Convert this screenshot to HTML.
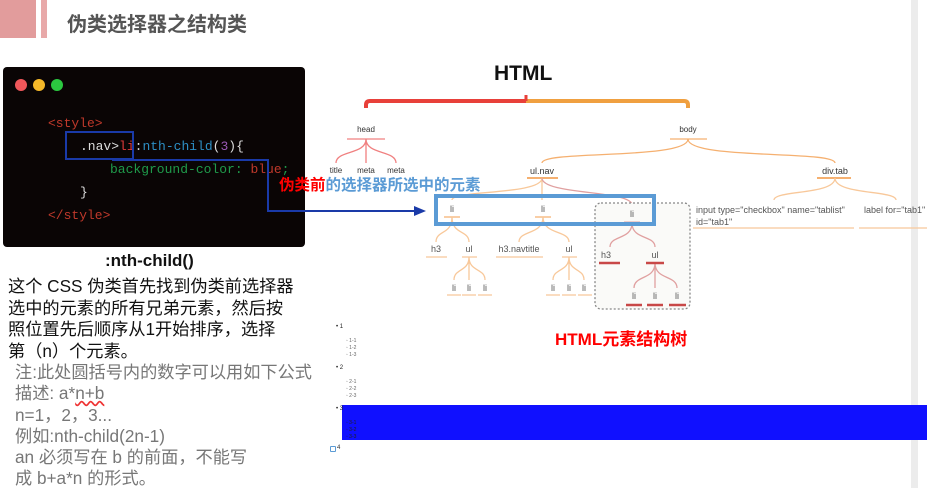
<!DOCTYPE html><html><head><meta charset="utf-8"><style>
body{margin:0;width:927px;height:488px;background:#fff;position:relative;overflow:hidden;font-family:"Liberation Sans","Noto Sans CJK SC",sans-serif}
.a{position:absolute;white-space:nowrap}
.code{font-family:"Liberation Mono","DejaVu Sans Mono",monospace;font-size:13px}
</style></head><body>
<div class="a" style="left:0;top:0;width:36px;height:38px;background:#e29c9c"></div>
<div class="a" style="left:41px;top:0;width:6px;height:38px;background:#e8a9a9"></div>
<div class="a" style="left:67px;top:8px;font-size:20px;font-weight:bold;color:#555">伪类选择器之结构类</div>
<div class="a" style="left:911px;top:0;width:7px;height:488px;background:#ececec"></div>

<div class="a" style="left:3px;top:67px;width:302px;height:180px;background:#0a0505;border-radius:4px"></div>
<div class="a" style="left:15px;top:79px;width:12px;height:12px;border-radius:6px;background:#f0575a"></div>
<div class="a" style="left:33px;top:79px;width:12px;height:12px;border-radius:6px;background:#f5b829"></div>
<div class="a" style="left:51px;top:79px;width:12px;height:12px;border-radius:6px;background:#2bc840"></div>
<div class="a code" style="left:48px;top:116px;color:#c0392b">&lt;style&gt;</div>
<div class="a code" style="left:80px;top:139px;color:#ddd">.nav&gt;<span style="color:#e03a3a">li</span>:<span style="color:#2d8fc5">nth-child</span>(<span style="color:#9b59b6">3</span>){</div>
<div class="a code" style="left:110px;top:162px;color:#1f9a4a">background-color: <span style="color:#c0392b">blue</span>;</div>
<div class="a code" style="left:80px;top:185px;color:#ddd">}</div>
<div class="a code" style="left:48px;top:208px;color:#c0392b">&lt;/style&gt;</div>

<div class="a" style="left:105px;top:251px;font-size:17px;font-weight:bold;color:#111">:nth-child()</div>
<div class="a" style="left:8px;top:276px;font-size:17.2px;line-height:21.5px;color:#111">这个 CSS 伪类首先找到伪类前选择器<br>选中的元素的所有兄弟元素，然后按<br>照位置先后顺序从1开始排序，选择<br>第（n）个元素。</div>
<div class="a" style="left:15px;top:362px;font-size:17.2px;line-height:21.3px;color:#777">注:此处圆括号内的数字可以用如下公式<br>描述: a*<span style="text-decoration:underline wavy #e33">n+b</span><br>n=1，2，3...<br>例如:nth-child(2n-1)<br>an 必须写在 b 的前面，不能写<br>成 b+a*n 的形式。</div>

<svg class="a" style="left:0;top:0" width="927" height="488">
<g fill="none" stroke-width="1.3">
<path d="M366 108 V105 Q366 101 370 101 H526" stroke="#e8403a" stroke-width="4"/>
<path d="M526 101 H684 Q688 101 688 105 V108" stroke="#f0a040" stroke-width="4"/>
<path d="M526 95 V101" stroke="#e8403a" stroke-width="3"/>
<path d="M347 139 H385" stroke="#f08080"/>
<path d="M366 139 C366 155 336 150 336 163 M366 139 V163 M366 139 C366 155 396 150 396 163" stroke="#f08080"/>
<path d="M670 139 H707" stroke="#f5b070"/>
<path d="M688 139 C688 160 542 150 542 163 M688 139 C688 160 835 150 835 163" stroke="#f5b070"/>
<path d="M527 178 H558 M817 178 H851" stroke="#f5b070" stroke-width="2"/>
<path d="M542 178 C542 195 452 190 452 200 M542 178 V200" stroke="#f8c89a"/>
<path d="M542 178 C542 195 632 190 632 205" stroke="#e0a0a0"/>
<path d="M835 178 C835 195 774 190 774 200 M835 178 C835 195 896 190 896 200" stroke="#f8c89a"/>
<path d="M693 228 H854 M859 228 H927" stroke="#f8c89a"/>
<path d="M444 217 H460 M535 217 H551" stroke="#f5b070"/>
<path d="M452 217 C452 235 436 230 436 242 M452 217 C452 235 469 230 469 242 M543 217 C543 235 519 230 519 242 M543 217 C543 235 569 230 569 242" stroke="#f8c89a"/>
<path d="M426 257 H447 M462 257 H477 M496 257 H543 M562 257 H577" stroke="#f8c89a"/>
<path d="M469 257 C469 272 454 268 454 280 M469 257 V280 M469 257 C469 272 485 268 485 280 M569 257 C569 272 553 268 553 280 M569 257 V280 M569 257 C569 272 584 268 584 280" stroke="#f8c89a"/>
<path d="M447 295 H461 M462 295 H476 M478 295 H492 M546 295 H560 M562 295 H576 M578 295 H592" stroke="#f8c89a"/>
<rect x="595" y="203" width="95" height="106" rx="6" fill="#fafaf8" stroke="#888" stroke-dasharray="2 2"/>
<path d="M632 223 C632 240 610 235 610 247 M632 223 C632 240 655 235 655 247 M655 263 C655 280 634 275 634 288 M655 263 V288 M655 263 C655 280 677 275 677 288" stroke="#e0a0a0"/>
<path d="M624 223 H640 M599 263 H620 M646 263 H664 M626 305 H642 M647 305 H663 M669 305 H686" stroke="#c84848" stroke-width="2.5"/>
<rect x="436" y="196" width="218" height="28" fill="none" stroke="#5b9bd5" stroke-width="4"/>
<rect x="66" y="132" width="67" height="27" fill="none" stroke="#1a3aa8" stroke-width="2"/>
<path d="M112 160 H268 V211 H416" stroke="#1a3aa8" stroke-width="2"/>
</g>
<path d="M426 211 L414 206 L414 216 Z" fill="#1a3aa8"/>
<g font-size="8" fill="#333" text-anchor="middle" font-family="Liberation Sans,sans-serif">
<text x="366" y="132">head</text><text x="688" y="132">body</text>
<text x="336" y="173">title</text><text x="366" y="173">meta</text><text x="396" y="173">meta</text>
<text x="542" y="174" font-size="9">ul.nav</text><text x="835" y="174" font-size="9">div.tab</text>
</g>
<g font-size="9" fill="#555" text-anchor="middle" font-family="Liberation Sans,sans-serif">
<text x="452" y="212">li</text><text x="543" y="212">li</text><text x="632" y="217">li</text>
<text x="436" y="252">h3</text><text x="469" y="252">ul</text><text x="519" y="252">h3.navtitle</text><text x="569" y="252">ul</text>
<text x="606" y="258">h3</text><text x="655" y="258">ul</text>
<text x="454" y="291">li</text><text x="469" y="291">li</text><text x="485" y="291">li</text>
<text x="553" y="291">li</text><text x="569" y="291">li</text><text x="584" y="291">li</text>
<text x="634" y="299">li</text><text x="655" y="299">li</text><text x="677" y="299">li</text>
<text x="696" y="213" text-anchor="start">input  type="checkbox" name="tablist"</text>
<text x="696" y="225" text-anchor="start">id="tab1"</text>
<text x="864" y="213" text-anchor="start">label  for="tab1"</text>
</g>
</svg>
<div class="a" style="left:494px;top:62px;font-size:21px;font-weight:bold;color:#111">HTML</div>
<div class="a" style="left:279px;top:173px;font-size:15.5px;font-weight:bold;color:#5b9bd5"><span style="color:#f00">伪类前</span>的选择器所选中的元素</div>
<div class="a" style="left:555px;top:325px;font-size:17px;font-weight:bold;color:#f00">HTML元素结构树</div>

<div class="a" style="left:342px;top:405px;width:585px;height:35px;background:#1010ff"></div>
<div class="a" style="font-size:6px;color:#222;left:336px;top:324px;line-height:7px">• 1</div>
<div class="a" style="font-size:5px;color:#666;left:346px;top:338px;line-height:7px">◦ 1-1<br>◦ 1-2<br>◦ 1-3</div>
<div class="a" style="font-size:6px;color:#222;left:336px;top:365px;line-height:7px">• 2</div>
<div class="a" style="font-size:5px;color:#666;left:346px;top:379px;line-height:7px">◦ 2-1<br>◦ 2-2<br>◦ 2-3</div>
<div class="a" style="font-size:6px;color:#222;left:336px;top:406px;line-height:7px">• 3</div>
<div class="a" style="font-size:5px;color:#222;left:346px;top:420px;line-height:7px">◦ 3-1<br>◦ 3-2<br>◦ 3-3</div>
<div class="a" style="left:330px;top:446px;width:4px;height:4px;border:1px solid #5b9bd5;border-radius:1px"></div>
<div class="a" style="font-size:6px;color:#333;left:337px;top:445px">4</div>
</body></html>
